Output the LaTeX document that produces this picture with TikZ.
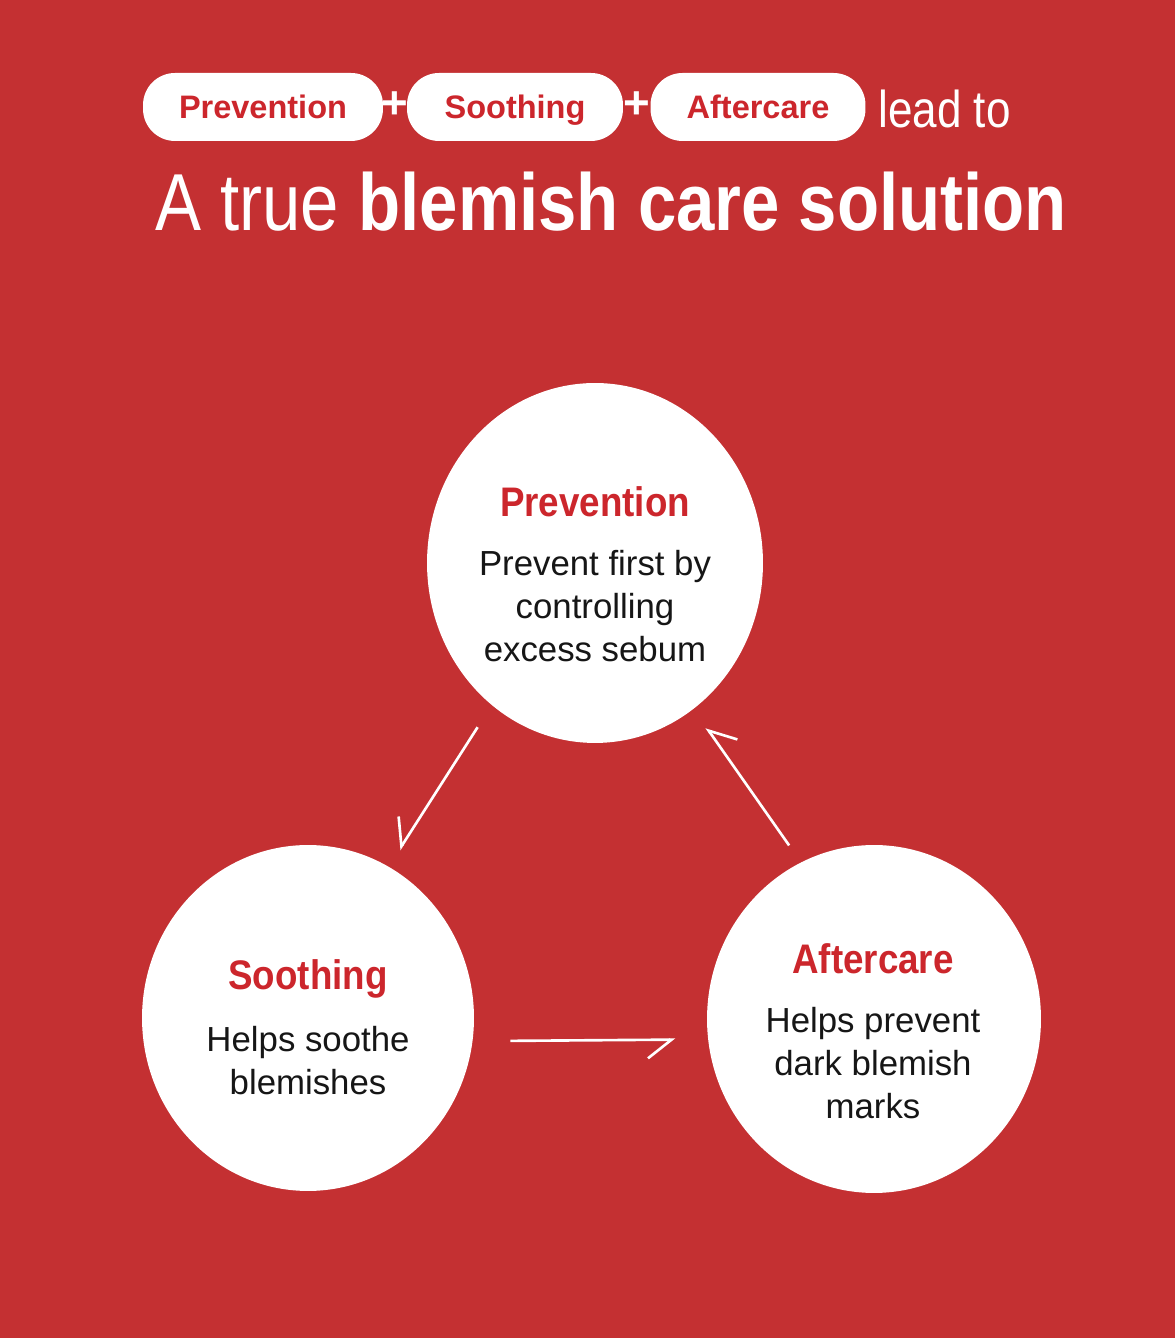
\documentclass[tikz,border=0pt]{standalone}
\usepackage{fontspec}
\setmainfont{Liberation Sans}
\usetikzlibrary{arrows.meta, positioning, shapes.geometric}
\definecolor{bgred}{RGB}{196,48,50}
\definecolor{headred}{RGB}{204,38,44}
\definecolor{ink}{RGB}{22,22,22}
\tikzset{
  pill/.style={fill=white, rounded corners=0.64cm, minimum height=1.36cm, inner sep=0pt,
    text height=16.5pt, text depth=3.8pt,
    text=headred, font=\bfseries\fontsize{18.5}{22}\selectfont},
  plus/.style={text=white, inner sep=0pt, font=\bfseries\fontsize{26}{28}\selectfont},
  bubble/.style={ellipse, fill=white, inner sep=0pt},
  bubtitle/.style={anchor=base, text=headred, xscale=0.89, inner sep=0pt,
    font=\bfseries\fontsize{23.5}{28}\selectfont},
  bubtext/.style={align=center, text=ink, inner sep=0pt, font=\fontsize{19.8}{24.4}\selectfont},
  flow/.style={draw=white, line width=1.5pt, -{Straight Barb[right, angle=76:0.6cm]}},
}

\begin{document}
\begin{tikzpicture}[x=0.02cm, y=0.02cm]
    \fill[bgred] (0,0) rectangle (1175,1338);
    \useasboundingbox (0,0) rectangle (1175,1338);

    % header line
    \node[pill, minimum width=4.8cm] (H1) at (263,1231) {Prevention};
    \node[pill, minimum width=4.32cm] (H2) at (515,1231) {Soothing};
    \node[pill, minimum width=4.3cm] (H3) at (758,1231) {Aftercare};
    \node[plus] (plus1) at (395,1233) {+};
    \node[plus] (plus2) at (637,1233) {+};
    \node[anchor=west, text=white, xscale=0.85, inner sep=0pt,
      font=\fontsize{29.5}{34}\selectfont] (lead) at (878,1229) {lead to};
    \node[anchor=west, text=white, xscale=0.853, inner sep=0pt,
      font=\fontsize{46}{52}\selectfont]
      (headline) at (155,1136) {A true \textbf{blemish care solution}};

    % the three steps
    \node[bubble, minimum width=6.72cm, minimum height=7.2cm] (P) at (595,775) {};
    \node[bubble, minimum width=6.64cm, minimum height=6.92cm] (S) at (308,320) {};
    \node[bubble, minimum width=6.68cm, minimum height=6.96cm] (A) at (874,319) {};

    \node[bubtitle] (Ptitle) at (595,821) {Prevention};
    \node[bubtext] (Ptext) at (595,732) {Prevent first by\\controlling\\excess sebum};
    \node[bubtitle] (Stitle) at (308,348) {Soothing};
    \node[bubtext] (Stext) at (308,277) {Helps soothe\\blemishes};
    \node[bubtitle] (Atitle) at (873,364) {Aftercare};
    \node[bubtext] (Atext) at (873,275) {Helps prevent\\dark blemish\\marks};

    \draw[flow, shorten <=0.52cm, shorten >=0.4cm] (P.234.5) -- (S.62.6);
    \draw[flow, shorten <=0.75cm, shorten >=0.65cm] (S.352.6) -- (A.187.2);
    \draw[flow, shorten <=0.41cm, shorten >=0.45cm] (A.115.8) -- (P.304.7);
\end{tikzpicture}
\end{document}
